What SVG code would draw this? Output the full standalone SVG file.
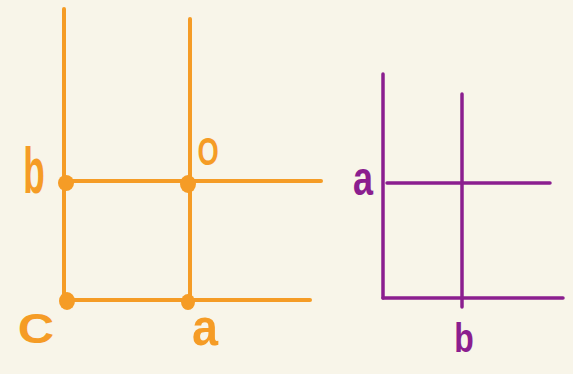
<svg xmlns="http://www.w3.org/2000/svg" width="573" height="374" viewBox="0 0 573 374">
<style>
.o{stroke:#f59c26;stroke-width:4;stroke-linecap:round;fill:none}
.p{stroke:#8b1e8f;stroke-width:3.5;stroke-linecap:round;fill:none}
.od{fill:#f59c26}
.ot{fill:#f59c26;font-family:"Liberation Sans",sans-serif;font-weight:bold;text-anchor:middle}
.pt{fill:#8b1e8f;font-family:"Liberation Sans",sans-serif;font-weight:bold;text-anchor:middle}
</style>
<rect width="573" height="374" fill="#f8f5e9"/>
<g id="connectors">
<line class="o" x1="64" y1="9" x2="64" y2="300"/>
<line class="o" x1="190" y1="19" x2="190" y2="300"/>
<line class="o" x1="64" y1="181" x2="321" y2="181"/>
<line class="o" x1="64" y1="300" x2="310" y2="300"/>
<line class="p" x1="383" y1="74" x2="383" y2="298"/>
<line class="p" x1="462" y1="94" x2="462" y2="307"/>
<line class="p" x1="387" y1="183" x2="550" y2="183"/>
<line class="p" x1="383" y1="298" x2="563" y2="298"/>
</g>
<g id="node-b"><ellipse class="od" cx="66" cy="183" rx="8" ry="8"/><text class="ot" transform="translate(34,193) scale(0.55,1)" font-size="64">b</text></g>
<g id="node-o"><ellipse class="od" cx="188" cy="184" rx="8" ry="9"/><text class="ot" transform="translate(208,165) scale(0.7,1)" font-size="39">O</text></g>
<g id="node-c"><ellipse class="od" cx="67" cy="301" rx="8" ry="9"/><text class="ot" transform="translate(36,343) scale(1.2,1)" font-size="42">C</text></g>
<g id="node-a"><ellipse class="od" cx="188" cy="302" rx="7" ry="8"/><text class="ot" transform="translate(205,345) scale(0.9,1)" font-size="52">a</text></g>
<g id="label-pa"><text class="pt" transform="translate(363,195) scale(0.75,1)" font-size="48">a</text></g>
<g id="label-pb"><text class="pt" transform="translate(464,352) scale(0.78,1)" font-size="41">b</text></g>
</svg>
